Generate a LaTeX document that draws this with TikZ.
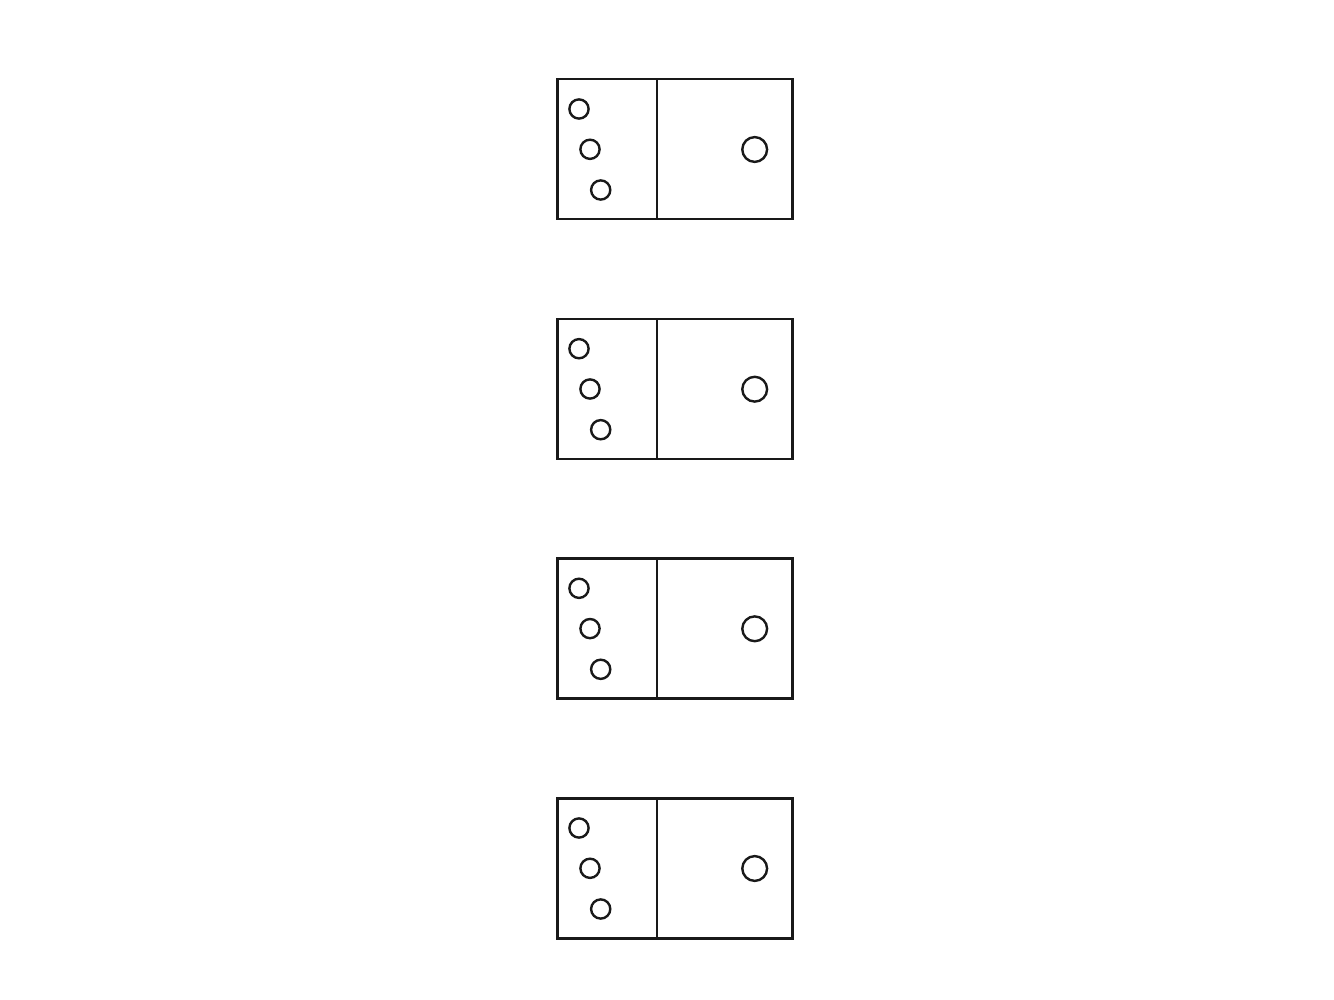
\documentclass[tikz,border=0pt]{standalone}
\tikzset{
  outline/.style={draw=black!90, line width=2.4pt},
  pip/.style={draw=black!90, line width=2.4pt},
}
\begin{document}
\begin{tikzpicture}[x=1pt,y=-1pt]
\useasboundingbox (0,0) rectangle (1334,1000);
\foreach \i/\dy in {0/0,1/239.7,2/479.3,3/719}{
  \begin{scope}[yshift=-\dy pt]
    \draw[outline] (557.3,79.3) rectangle (792.3,219.3);
    \draw[outline] (657,79.3) -- (657,219.3);
    \draw[pip] (579,109) circle (9.6);
    \draw[pip] (590,149.3) circle (9.6);
    \draw[pip] (600.7,190) circle (9.6);
    \draw[pip] (754.7,149.5) circle (12.4);
  \end{scope}
}
\end{tikzpicture}
\end{document}
